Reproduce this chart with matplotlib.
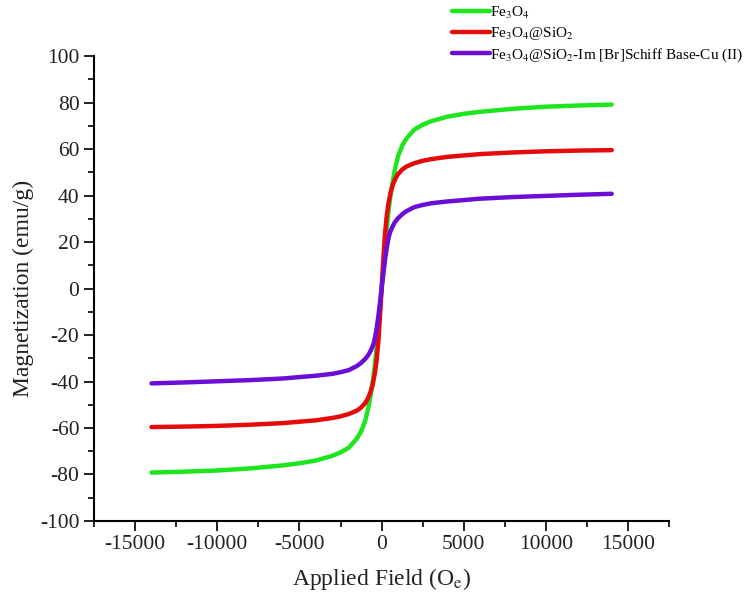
import matplotlib
matplotlib.use("Agg")
import matplotlib.pyplot as plt
from matplotlib.ticker import MultipleLocator

plt.rcParams['font.family'] = ['Liberation Serif', 'DejaVu Serif']
plt.rcParams['mathtext.fontset'] = 'stix'
plt.rcParams['axes.unicode_minus'] = False

# applied field (Oe) and magnetization (emu/g)
h_fe3o4 = [-14000, -12000, -10000, -8000, -6000, -5000, -4000, -3000, -2500, -2000, -1500, -1250, -1000, -800, -650,
           -500, -400, -300, -200, -100,
           0, 100, 200, 300, 400, 500, 650, 800, 1000, 1250, 1500, 2000, 2500, 3000, 4000, 5000, 6000, 8000,
           10000, 12000, 14000]
m_fe3o4 = [-79.2, -78.8, -78.3, -77.4, -76.1, -75.2, -74.0, -72.0, -70.5, -68.5, -64.5, -61.5, -57.0, -51.0, -45.0,
           -38.0, -32.0, -25.0, -17.0, -9.0,
           0, 9.0, 17.0, 25.0, 32.0, 38.0, 45.0, 51.0, 57.0, 61.5, 64.5, 68.5, 70.5, 72.0, 74.0, 75.2, 76.1, 77.4,
           78.3, 78.8, 79.2]

h_sio2 = [-14000, -12000, -10000, -8000, -6000, -4000, -3000, -2500, -2000, -1500, -1250, -1000, -850, -700, -550,
          -400, -300, -200, -100,
          0, 100, 200, 300, 400, 550, 700, 850, 1000, 1250, 1500, 2000, 2500, 3000, 4000, 6000, 8000, 10000,
          12000, 14000]
m_sio2 = [-59.6, -59.4, -59.1, -58.6, -57.9, -56.7, -55.7, -55.0, -54.0, -52.5, -51.2, -49.3, -47.5, -45.0, -41.5,
          -36.0, -30.5, -23.0, -12.0,
          0, 12.0, 23.0, 30.5, 36.0, 41.5, 45.0, 47.5, 49.3, 51.2, 52.5, 54.0, 55.0, 55.7, 56.7, 57.9, 58.6, 59.1,
          59.4, 59.6]

h_cu = [-14000, -12000, -10000, -8000, -6000, -4000, -3000, -2500, -2000, -1500, -1250, -1000, -800, -650, -500,
        -400, -300, -200, -100,
        0, 100, 200, 300, 400, 500, 650, 800, 1000, 1250, 1500, 2000, 2500, 3000, 4000, 6000, 8000, 10000,
        12000, 14000]
m_cu = [-40.8, -40.4, -39.9, -39.4, -38.7, -37.5, -36.7, -36.0, -35.1, -33.3, -32.0, -30.3, -28.5, -26.5, -24.0,
        -21.0, -17.0, -12.0, -6.0,
        0, 6.0, 12.0, 17.0, 21.0, 24.0, 26.5, 28.5, 30.3, 32.0, 33.3, 35.1, 36.0, 36.7, 37.5, 38.7, 39.4, 39.9,
        40.4, 40.8]

labels = [r'Fe$_3$O$_4$', r'Fe$_3$O$_4$@SiO$_2$', r'Fe$_3$O$_4$@SiO$_2$-Im [Br]Schiff Base-Cu (II)']
colors = ['#1ee61e', '#e60b0b', '#6a0dd6']

fig = plt.figure(figsize=(7.49, 6.05), dpi=100)
ax = fig.add_axes([0.1255, 0.139, 0.768, 0.768])

for h, m, c, lab in zip([h_fe3o4, h_sio2, h_cu], [m_fe3o4, m_sio2, m_cu], colors, labels):
    ax.plot(h, m, color=c, lw=3.2, label=lab, solid_capstyle='round', solid_joinstyle='round')

ax.set_xlim(-17500, 17500)
ax.set_ylim(-100, 100)
ax.xaxis.set_major_locator(MultipleLocator(5000))
ax.xaxis.set_minor_locator(MultipleLocator(2500))
ax.yaxis.set_major_locator(MultipleLocator(20))
ax.yaxis.set_minor_locator(MultipleLocator(10))

ax.spines['top'].set_visible(False)
ax.spines['right'].set_visible(False)
for s in ['left', 'bottom']:
    ax.spines[s].set_linewidth(1.5)
ax.tick_params(which='major', direction='out', length=7, width=1.4, labelsize=15.5, colors='#222222')
ax.tick_params(which='minor', direction='out', length=4, width=1.2)

ax.set_xlabel(r'Applied Field (O$_\mathrm{e}$)', fontsize=17, color='#222222', labelpad=8)
ax.set_ylabel('Magnetization (emu/g)', fontsize=17, color='#222222', labelpad=4)

fig.legend(loc='upper left', bbox_to_anchor=(0.604, 0.992), frameon=False, fontsize=11,
           handlelength=2.45, handletextpad=0.0, labelspacing=0.28, borderaxespad=0, borderpad=0)

fig.savefig('out.png', dpi=100)
